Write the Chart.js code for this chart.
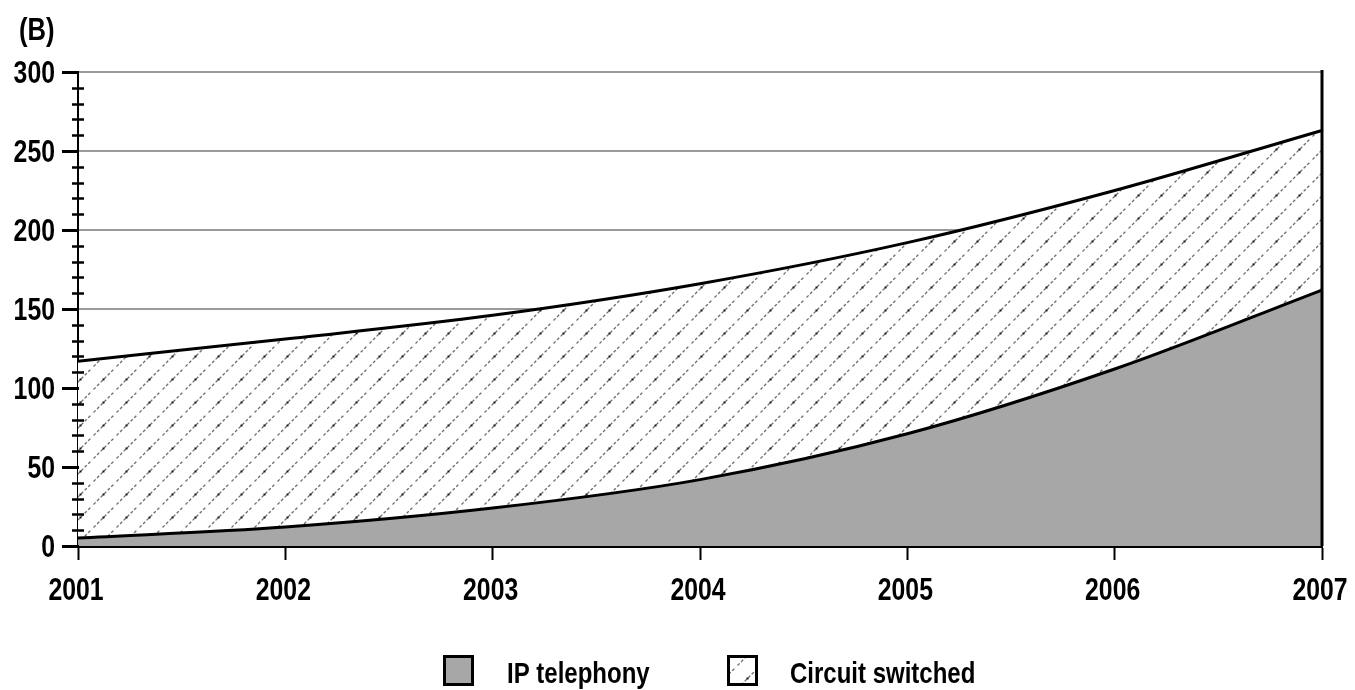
<!DOCTYPE html>
<html>
<head>
<meta charset="utf-8">
<script src="https://cdn.jsdelivr.net/npm/chart.js@4.4.1/dist/chart.umd.min.js"></script>
<style>
  html, body { margin: 0; padding: 0; background: #fff; }
  #wrap { width: 1355px; height: 690px; }
</style>
</head>
<body>
<div id="wrap"><canvas id="voipChart" width="1355" height="690"></canvas></div>
<script>
// data
var years = ['2001', '2002', '2003', '2004', '2005', '2006', '2007'];
var ipTelephony = [5, 12, 24, 42, 71, 112, 162];
var circuitSwitched = [112, 119, 122, 124, 121, 113, 101];
var yTicks = [0, 50, 100, 150, 200, 250, 300];
var seriesNames = ['IP telephony', 'Circuit switched'];

var FONT = "'Liberation Sans', Arial, sans-serif";
var SQUEEZE = 0.8;   // the original uses a condensed face
var gray = '#a7a7a7';

// hatch pattern for circuit switched
function makeHatch() {
    var c = document.createElement('canvas');
    c.width = 23; c.height = 23;
    var g = c.getContext('2d');
    g.fillStyle = '#fff';
    g.fillRect(0, 0, 23, 23);
    g.strokeStyle = '#6e6e6e';
    g.lineWidth = 1.3;
    g.setLineDash([3, 2]);
    g.beginPath();
    g.moveTo(-2, 25); g.lineTo(25, -2);
    g.stroke();
    g.fillStyle = '#111';
    g.fillRect(10.5, 10.5, 2, 2);
    return g.createPattern(c, 'repeat');
}
var hatch = makeHatch();

function squeezedText(ctx, text, x, y, align) {
    ctx.save();
    ctx.translate(x, y);
    ctx.scale(SQUEEZE, 1);
    ctx.textAlign = align;
    ctx.fillText(text, 0, 0);
    ctx.restore();
}

// axis decorations, tick labels, title and legend
var extras = {
    id: 'extras',
    afterDraw: function (chart) {
        var ctx = chart.ctx;
        var area = chart.chartArea;
        var x = chart.scales.x;
        var y = chart.scales.y;
        ctx.save();
        ctx.strokeStyle = '#000';
        // y ticks: major every 50, minor every 10
        for (var v = 0; v <= 300; v += 10) {
            var py = Math.round(y.getPixelForValue(v)) + 0.5;
            ctx.beginPath();
            if (v % 50 === 0) {
                ctx.lineWidth = 3;
                ctx.moveTo(area.left - 16, py);
                ctx.lineTo(area.left + 1, py);
            } else {
                ctx.lineWidth = 2.5;
                ctx.moveTo(area.left - 6, py);
                ctx.lineTo(area.left + 6, py);
            }
            ctx.stroke();
        }
        // right border line
        ctx.lineWidth = 3;
        ctx.beginPath();
        ctx.moveTo(area.right, area.top - 2);
        ctx.lineTo(area.right, area.bottom);
        ctx.stroke();

        ctx.fillStyle = '#000';
        ctx.textBaseline = 'alphabetic';
        ctx.font = 'bold 31px ' + FONT;

        // tick labels
        y.ticks.forEach(function (t) {
            squeezedText(ctx, String(t.value), area.left - 23, y.getPixelForValue(t.value) + 11, 'right');
        });
        x.ticks.forEach(function (t, i) {
            squeezedText(ctx, years[t.value], x.getPixelForTick(i) - 2, area.bottom + 54, 'center');
        });

        // panel label
        ctx.font = 'bold 32px ' + FONT;
        squeezedText(ctx, '(B)', 19, 40, 'left');

        // legend
        var boxes = [
            { x: 443, fill: gray, label: seriesNames[0], tx: 507 },
            { x: 727, fill: hatch, label: seriesNames[1], tx: 790 }
        ];
        boxes.forEach(function (b) {
            ctx.fillStyle = b.fill;
            ctx.fillRect(b.x, 655, 31, 31);
            ctx.lineWidth = 3;
            ctx.strokeStyle = '#000';
            ctx.strokeRect(b.x + 1.5, 656.5, 28, 28);
            ctx.fillStyle = '#000';
            ctx.font = 'bold 30px ' + FONT;
            squeezedText(ctx, b.label, b.tx, 683, 'left');
        });
        ctx.restore();
    }
};

var data = {
    labels: years,
    datasets: [
        {
            label: seriesNames[0],
            data: ipTelephony,
            backgroundColor: gray,
            borderColor: '#000',
            borderWidth: 3,
            fill: 'origin',
            pointRadius: 0,
            cubicInterpolationMode: 'monotone'
        },
        {
            label: seriesNames[1],
            data: circuitSwitched,
            backgroundColor: hatch,
            borderColor: '#000',
            borderWidth: 3,
            fill: '-1',
            pointRadius: 0,
            cubicInterpolationMode: 'monotone'
        }
    ]
};

var options = {
    responsive: false,
    animation: false,
    layout: { padding: { left: 0, right: 33, top: 72, bottom: 0 } },
    plugins: {
        legend: { display: false },
        tooltip: { enabled: false }
    },
    scales: {
        x: {
            stacked: true,
            offset: false,
            afterFit: function (s) { s.height = 144; },
            border: { display: true, color: '#000', width: 3 },
            grid: {
                drawOnChartArea: false,
                drawTicks: true,
                tickLength: 14,
                tickWidth: 2,
                tickColor: '#000'
            },
            ticks: { display: false }
        },
        y: {
            stacked: true,
            min: 0,
            max: 300,
            afterFit: function (s) { s.width = 78; },
            afterBuildTicks: function (s) {
                s.ticks = yTicks.map(function (v) { return { value: v }; });
            },
            border: { display: true, color: '#000', width: 2 },
            grid: {
                drawTicks: false,
                lineWidth: 2,
                color: function (c) {
                    return c.tick && c.tick.value > 0 ? '#9a9a9a' : 'rgba(0,0,0,0)';
                }
            },
            ticks: { display: false }
        }
    }
};

new Chart(document.getElementById('voipChart').getContext('2d'), {
    type: 'line',
    data: data,
    options: options,
    plugins: [extras]
});
</script>
</body>
</html>
